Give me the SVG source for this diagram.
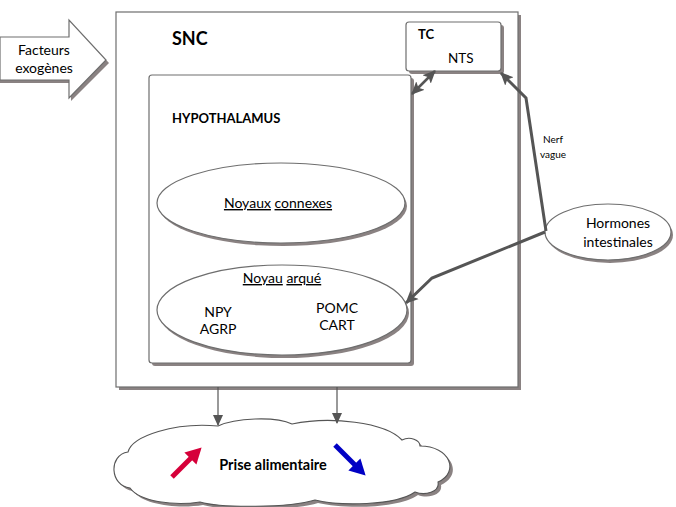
<svg xmlns="http://www.w3.org/2000/svg" width="676" height="507" viewBox="0 0 676 507">
<defs>
<style>
.box{fill:#fff;stroke:#6e6e6e;stroke-width:1.2}
.sh{fill:#8a8282;stroke:none}
.t{font-family:Lato,"Liberation Sans",sans-serif;fill:#000}
.b{font-weight:bold}
.c{stroke:#555;fill:none;stroke-linejoin:miter}
</style>
<marker id="ah" markerUnits="userSpaceOnUse" markerWidth="14" markerHeight="14" refX="12" refY="6" orient="auto-start-reverse" viewBox="0 0 14 12">
<path d="M0,0 L13,6 L0,12 L3,6 Z" fill="#555"/>
</marker>
<marker id="ahs" markerUnits="userSpaceOnUse" markerWidth="12" markerHeight="12" refX="10" refY="5" orient="auto" viewBox="0 0 12 10">
<path d="M0,0 L11,5 L0,10 Z" fill="#555"/>
</marker>
<marker id="ahr" markerUnits="userSpaceOnUse" markerWidth="17" markerHeight="17" refX="2" refY="7.5" orient="auto" viewBox="0 0 15 15">
<path d="M0,0 L14,7.5 L0,15 Z" fill="#d6003a"/>
</marker>
<marker id="ahb" markerUnits="userSpaceOnUse" markerWidth="17" markerHeight="17" refX="2" refY="7.5" orient="auto" viewBox="0 0 15 15">
<path d="M0,0 L14,7.5 L0,15 Z" fill="#0000c4"/>
</marker>
</defs>
<rect width="676" height="507" fill="#fff"/>

<g id="facteurs">
<polygon class="sh" points="0,40 71,40 71,23 109,63 71,101 71,83 0,83"/>
<polygon points="0,37 69,37 69,20 106,60 69,98 69,80 0,80" fill="#fff" stroke="#6e6e6e" stroke-width="1.2"/>
<text class="t" font-size="14" text-anchor="middle" x="44" y="55">Facteurs</text>
<text class="t" font-size="14" text-anchor="middle" x="44" y="73">exogènes</text>
</g>

<g id="snc">
<rect class="sh" x="119" y="15" width="402" height="375"/>
<rect class="box" x="116" y="12" width="402" height="375"/>
<text class="t b" font-size="18" x="172" y="45">SNC</text>
</g>

<g id="tc">
<rect class="sh" x="409" y="25" width="95" height="49" rx="3"/>
<rect class="box" x="406" y="22" width="95" height="49" rx="3"/>
<text class="t b" font-size="13" x="418" y="39">TC</text>
<text class="t" font-size="13.5" x="448" y="63">NTS</text>
</g>

<g id="hypothalamus">
<rect class="sh" x="152" y="78" width="262" height="288" rx="3"/>
<rect class="box" x="149" y="75" width="262" height="288" rx="3"/>
<text class="t b" font-size="13" x="172" y="123">HYPOTHALAMUS</text>
</g>

<g id="noyaux-connexes">
<ellipse class="sh" cx="283" cy="206" rx="124" ry="40"/>
<ellipse class="box" cx="281" cy="203" rx="124" ry="40"/>
<text class="t" font-size="14" text-anchor="middle" x="278" y="208"><tspan text-decoration="underline">Noyaux</tspan> <tspan text-decoration="underline">connexes</tspan></text>
</g>

<g id="noyau-arque">
<ellipse class="sh" cx="284" cy="313" rx="125" ry="45"/>
<ellipse class="box" cx="282" cy="310" rx="125" ry="45"/>
<text class="t" font-size="14" text-anchor="middle" x="282" y="283"><tspan text-decoration="underline">Noyau</tspan> <tspan text-decoration="underline">arqué</tspan></text>
<text class="t" font-size="14" text-anchor="middle" x="218" y="317">NPY</text>
<text class="t" font-size="14" text-anchor="middle" x="218" y="334">AGRP</text>
<text class="t" font-size="14" text-anchor="middle" x="337" y="313">POMC</text>
<text class="t" font-size="14" text-anchor="middle" x="337" y="330">CART</text>
</g>

<g id="hormones">
<ellipse class="sh" cx="610" cy="235" rx="63" ry="28"/>
<ellipse class="box" cx="608" cy="232" rx="63" ry="28"/>
<text class="t" font-size="14" text-anchor="middle" x="618" y="228">Hormones</text>
<text class="t" font-size="14" text-anchor="middle" x="618" y="247">intestinales</text>
</g>

<g id="prise">
<path class="sh" transform="translate(3,3)" d="M130,488 C110,486 108,455 128,452 C132,436 175,422 218,426 C235,418 275,416 292,424 C330,416 385,422 402,440 C410,436 420,440 420,446 C450,446 460,472 438,482 C440,492 425,496 415,492 C395,506 340,506 315,500 C290,508 220,508 200,502 C175,506 140,502 130,488 Z"/>
<path fill="#fff" stroke="#555" stroke-width="1.1" d="M130,488 C110,486 108,455 128,452 C132,436 175,422 218,426 C235,418 275,416 292,424 C330,416 385,422 402,440 C410,436 420,440 420,446 C450,446 460,472 438,482 C440,492 425,496 415,492 C395,506 340,506 315,500 C290,508 220,508 200,502 C175,506 140,502 130,488 Z"/>
<line x1="172" y1="477" x2="192" y2="457" stroke="#d6003a" stroke-width="5" marker-end="url(#ahr)"/>
<line x1="335" y1="445" x2="356" y2="466" stroke="#0000c4" stroke-width="5" marker-end="url(#ahb)"/>
<text class="t b" font-size="14.5" text-anchor="middle" x="273" y="470">Prise alimentaire</text>
</g>

<g id="connectors">
<line class="c" x1="412" y1="94" x2="435" y2="71" stroke-width="2.5" marker-start="url(#ah)" marker-end="url(#ah)"/>
<polyline class="c" points="546,231 526,98 501,73" stroke-width="3" marker-end="url(#ah)"/>
<polyline class="c" points="545,232 432,278 406,303" stroke-width="3" marker-end="url(#ah)"/>
<line class="c" x1="218" y1="387" x2="218" y2="425" stroke-width="1.2" marker-end="url(#ahs)"/>
<line class="c" x1="337" y1="387" x2="337" y2="423" stroke-width="1.2" marker-end="url(#ahs)"/>
<text class="t" font-size="10" text-anchor="middle" x="553" y="143">Nerf</text>
<text class="t" font-size="10" text-anchor="middle" x="553" y="158">vague</text>
</g>
</svg>
